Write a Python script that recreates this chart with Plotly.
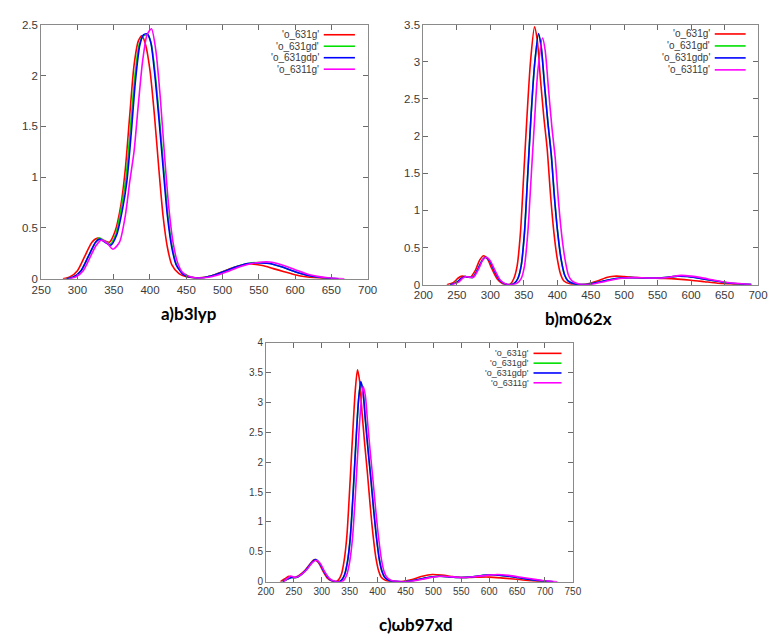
import plotly.graph_objects as go

W, H = 780, 639
series_names = ["'o_631g'", "'o_631gd'", "'o_631gdp'", "'o_6311g'"]
colors = ["#ff0000", "#00e000", "#0000ff", "#ff00ff"]

# ---------------- panel a) b3lyp ----------------
a_red_x = [280, 290, 300, 310, 320, 328, 336, 344, 352, 360, 366, 372, 378, 384, 389, 394, 400, 406, 412, 418, 424, 430, 440, 450, 468, 485, 500, 515, 530, 540, 555, 570, 585, 600, 615, 630, 650]
a_red_y = [0, 0.02, 0.08, 0.22, 0.36, 0.40, 0.38, 0.36, 0.47, 0.73, 1.08, 1.60, 2.10, 2.34, 2.39, 2.30, 2.05, 1.62, 1.10, 0.62, 0.31, 0.14, 0.05, 0.02, 0.01, 0.03, 0.07, 0.11, 0.14, 0.145, 0.13, 0.10, 0.07, 0.04, 0.02, 0.01, 0]
a_grn_x = [285, 295, 305, 315, 325, 330, 338, 345, 353, 361, 367, 373, 379, 385, 391, 397, 402, 407, 413, 419, 425, 431, 437, 447, 457, 472, 490, 505, 520, 535, 550, 565, 580, 600, 620, 640, 660]
a_grn_y = [0, 0.02, 0.08, 0.22, 0.36, 0.40, 0.37, 0.34, 0.44, 0.72, 1.00, 1.48, 1.98, 2.30, 2.39, 2.40, 2.30, 2.03, 1.58, 1.08, 0.60, 0.30, 0.13, 0.04, 0.015, 0.01, 0.04, 0.08, 0.12, 0.15, 0.16, 0.15, 0.12, 0.07, 0.03, 0.01, 0]
a_blu_x = [285, 295, 305, 315, 325, 331, 338, 346, 354, 362, 368, 374, 380, 386, 391, 396, 401, 406, 412, 418, 424, 430, 436, 446, 456, 472, 490, 505, 520, 535, 553, 565, 580, 600, 620, 640, 660]
a_blu_y = [0, 0.02, 0.08, 0.22, 0.36, 0.39, 0.36, 0.33, 0.43, 0.68, 0.95, 1.42, 1.95, 2.30, 2.40, 2.41, 2.33, 2.05, 1.60, 1.10, 0.62, 0.31, 0.14, 0.04, 0.015, 0.01, 0.04, 0.08, 0.12, 0.15, 0.155, 0.15, 0.12, 0.07, 0.03, 0.01, 0]
a_mag_x = [288, 298, 308, 318, 326, 333, 341, 349, 358, 366, 372, 378, 384, 390, 396, 402, 408, 414, 420, 426, 432, 438, 444, 452, 462, 476, 495, 510, 525, 540, 555, 565, 580, 600, 620, 645, 668]
a_mag_y = [0, 0.02, 0.08, 0.22, 0.33, 0.38, 0.35, 0.29, 0.36, 0.62, 0.95, 1.25, 1.72, 2.15, 2.40, 2.46, 2.25, 1.80, 1.22, 0.70, 0.35, 0.16, 0.07, 0.03, 0.01, 0.01, 0.04, 0.08, 0.12, 0.15, 0.165, 0.165, 0.14, 0.09, 0.04, 0.01, 0]

# ---------------- panel b) m062x ----------------
b_red_x = [235, 245, 252, 258, 264, 270, 278, 284, 290, 296, 302, 310, 318, 324, 330, 335, 340, 345, 350, 355, 360, 366, 370, 375, 380, 385, 390, 395, 400, 405, 410, 420, 430, 445, 460, 475, 488, 500, 520, 540, 560, 580, 600, 620, 640, 660, 680]
b_red_y = [0, 0.03, 0.09, 0.115, 0.105, 0.10, 0.20, 0.33, 0.39, 0.34, 0.22, 0.08, 0.015, 0.0, 0.01, 0.08, 0.25, 0.70, 1.50, 2.30, 3.00, 3.47, 3.30, 2.75, 2.25, 1.82, 1.20, 0.70, 0.35, 0.14, 0.05, 0.01, 0.0, 0.01, 0.05, 0.10, 0.115, 0.11, 0.095, 0.09, 0.085, 0.075, 0.06, 0.04, 0.02, 0.008, 0]
b_blu_x = [240, 250, 256, 262, 268, 274, 282, 288, 293, 299, 306, 314, 322, 330, 336, 341, 346, 351, 356, 361, 366, 372, 376, 381, 386, 391, 396, 401, 406, 411, 416, 426, 436, 450, 465, 480, 495, 510, 530, 550, 565, 580, 595, 610, 630, 650, 670, 690]
b_blu_y = [0, 0.03, 0.08, 0.11, 0.10, 0.10, 0.22, 0.33, 0.37, 0.32, 0.19, 0.06, 0.01, 0.0, 0.02, 0.08, 0.25, 0.70, 1.50, 2.30, 2.95, 3.38, 3.20, 2.68, 2.18, 1.75, 1.15, 0.67, 0.33, 0.13, 0.05, 0.01, 0.0, 0.01, 0.04, 0.07, 0.09, 0.095, 0.09, 0.09, 0.10, 0.115, 0.11, 0.09, 0.06, 0.03, 0.012, 0]
b_grn_x = [240, 250, 256, 262, 268, 274, 282, 288, 293, 299, 306, 314, 322, 330, 336, 341, 346, 351, 356, 361, 366, 372, 376, 381, 386, 391, 396, 401, 406, 411, 416, 426, 436, 450, 465, 480, 495, 510, 530, 550, 565, 580, 595, 610, 630, 650, 670, 690]
b_grn_y = [0, 0.03, 0.08, 0.11, 0.10, 0.10, 0.22, 0.33, 0.37, 0.32, 0.19, 0.06, 0.01, 0.0, 0.02, 0.08, 0.25, 0.70, 1.50, 2.30, 2.95, 3.37, 3.20, 2.69, 2.19, 1.76, 1.16, 0.68, 0.33, 0.13, 0.05, 0.01, 0.0, 0.01, 0.04, 0.07, 0.09, 0.095, 0.09, 0.09, 0.10, 0.115, 0.11, 0.09, 0.06, 0.03, 0.012, 0]
b_mag_x = [242, 252, 258, 263, 269, 275, 283, 289, 294, 300, 307, 315, 323, 332, 340, 346, 351, 356, 361, 366, 371, 378, 382, 387, 392, 397, 402, 407, 412, 417, 422, 432, 440, 455, 470, 485, 500, 515, 535, 555, 570, 585, 600, 615, 635, 655, 675, 690]
b_mag_y = [0, 0.03, 0.08, 0.11, 0.10, 0.10, 0.22, 0.34, 0.37, 0.32, 0.19, 0.06, 0.01, 0.0, 0.02, 0.08, 0.25, 0.70, 1.45, 2.20, 2.88, 3.32, 3.15, 2.62, 2.12, 1.70, 1.10, 0.64, 0.32, 0.12, 0.05, 0.01, 0.0, 0.01, 0.04, 0.07, 0.09, 0.095, 0.09, 0.09, 0.105, 0.125, 0.115, 0.095, 0.06, 0.03, 0.012, 0]

# ---------------- panel c) wb97xd ----------------
c_red_x = [226, 234, 241, 250, 260, 270, 280, 287, 294, 302, 310, 318, 325, 330, 335, 340, 345, 350, 355, 360, 364, 368, 372, 377, 382, 387, 392, 397, 402, 407, 415, 425, 440, 460, 480, 498, 515, 535, 551, 575, 600, 625, 650, 675, 703]
c_red_y = [0, 0.05, 0.09, 0.065, 0.11, 0.19, 0.31, 0.37, 0.32, 0.18, 0.06, 0.01, 0.0, 0.03, 0.12, 0.35, 0.77, 1.55, 2.41, 3.20, 3.55, 3.35, 2.85, 2.30, 1.80, 1.25, 0.77, 0.40, 0.18, 0.07, 0.02, 0.005, 0.0, 0.03, 0.09, 0.12, 0.11, 0.085, 0.07, 0.075, 0.077, 0.06, 0.04, 0.015, 0]
c_blu_x = [230, 238, 246, 254, 262, 272, 282, 289, 296, 304, 312, 320, 331, 336, 341, 346, 351, 356, 361, 366, 370, 374, 378, 383, 388, 393, 398, 403, 408, 413, 421, 431, 446, 465, 485, 510, 530, 550, 570, 590, 604, 625, 650, 675, 700, 715]
c_blu_y = [0, 0.04, 0.07, 0.07, 0.11, 0.20, 0.32, 0.37, 0.31, 0.17, 0.06, 0.01, 0.0, 0.03, 0.12, 0.33, 0.73, 1.45, 2.30, 3.05, 3.35, 3.18, 2.72, 2.20, 1.72, 1.20, 0.74, 0.38, 0.17, 0.07, 0.02, 0.005, 0.0, 0.02, 0.06, 0.09, 0.08, 0.07, 0.08, 0.105, 0.115, 0.10, 0.07, 0.035, 0.01, 0]
c_grn_x = [230, 238, 246, 254, 262, 272, 282, 289, 296, 304, 312, 320, 331, 336, 341, 346, 351, 356, 361, 366, 370, 374, 378, 383, 388, 393, 398, 403, 408, 413, 421, 431, 446, 465, 485, 510, 530, 550, 570, 590, 604, 625, 650, 675, 700, 715]
c_grn_y = [0, 0.04, 0.07, 0.07, 0.11, 0.20, 0.32, 0.37, 0.31, 0.17, 0.06, 0.01, 0.0, 0.03, 0.12, 0.33, 0.73, 1.45, 2.30, 3.05, 3.34, 3.18, 2.73, 2.21, 1.73, 1.21, 0.75, 0.38, 0.17, 0.07, 0.02, 0.005, 0.0, 0.02, 0.06, 0.09, 0.08, 0.07, 0.08, 0.105, 0.115, 0.10, 0.07, 0.035, 0.01, 0]
c_mag_x = [232, 238, 244, 253, 262, 273, 283, 290, 297, 305, 313, 322, 335, 340, 345, 350, 355, 360, 365, 370, 374, 378, 382, 387, 392, 397, 402, 407, 412, 417, 425, 435, 450, 470, 490, 515, 535, 555, 575, 600, 615, 635, 660, 685, 705, 722]
c_mag_y = [0, 0.05, 0.095, 0.07, 0.11, 0.20, 0.32, 0.36, 0.31, 0.17, 0.06, 0.01, 0.0, 0.03, 0.12, 0.33, 0.72, 1.42, 2.25, 2.95, 3.27, 3.12, 2.68, 2.16, 1.68, 1.17, 0.72, 0.37, 0.16, 0.07, 0.02, 0.005, 0.0, 0.02, 0.06, 0.09, 0.08, 0.07, 0.085, 0.11, 0.12, 0.105, 0.07, 0.035, 0.01, 0]

panel_titles = ["a)b3lyp", "b)m062x", "c)\u03c9b97xd"]
x_ranges = [[250, 700], [200, 700], [200, 750]]
y_ranges = [[0, 2.5], [0, 3.5], [0, 4]]
y_dticks = [0.5, 0.5, 0.5]

panels = [
    [(a_red_x, a_red_y), (a_grn_x, a_grn_y), (a_blu_x, a_blu_y), (a_mag_x, a_mag_y)],
    [(b_red_x, b_red_y), (b_grn_x, b_grn_y), (b_blu_x, b_blu_y), (b_mag_x, b_mag_y)],
    [(c_red_x, c_red_y), (c_grn_x, c_grn_y), (c_blu_x, c_blu_y), (c_mag_x, c_mag_y)],
]

# plot-area pixel boxes (left, right, top, bottom)
boxes = [(32, 367, 19, 278), (424.3, 767.7, 19, 284), (262.7, 577.7, 343.3, 586.7)]
tick_fs = [11.5, 11.5, 10]
leg_fs = [10, 10, 9]
leg_step = [11.7, 12.2, 10]
leg_top = [29.3, 28.5, 354]
leg_line = [(322, 354), (723.3, 755), (537.3, 566)]
title_pos = [(184, 313), (583, 318), (417, 630)]

def px(x):
    return x / W

def py(y):
    return 1 - y / H

fig = go.Figure()
layout = dict(width=W, height=H, margin=dict(l=0, r=0, t=0, b=0),
              paper_bgcolor="white", plot_bgcolor="white", showlegend=False)
annotations = []
shapes = []

for p in range(3):
    sfx = "" if p == 0 else str(p + 1)
    for s in range(4):
        xs, ys = panels[p][s]
        fig.add_trace(go.Scatter(x=xs, y=ys, mode="lines", name=series_names[s],
                                 line=dict(color=colors[s], width=1.6, shape="spline", smoothing=0.7),
                                 xaxis="x" + sfx, yaxis="y" + sfx, hoverinfo="x+y"))
    l, r, t, b = boxes[p]
    axcommon = dict(showgrid=False, zeroline=False, showline=True, linecolor="#8a8a8a", linewidth=1,
                    mirror="ticks", ticks="inside", ticklen=5, tickcolor="#6a6a6a",
                    tickfont=dict(family="Liberation Sans, Arial, sans-serif", size=tick_fs[p], color="#3a3a3a"))
    layout["xaxis" + sfx] = dict(axcommon, domain=[px(l), px(r)], range=x_ranges[p], dtick=50,
                                 anchor="y" + sfx)
    layout["yaxis" + sfx] = dict(axcommon, domain=[py(b), py(t)], range=y_ranges[p], dtick=y_dticks[p],
                                 anchor="x" + sfx)
    # gnuplot-style key: right-aligned label + line sample
    x0, x1 = leg_line[p]
    for s in range(4):
        yy = leg_top[p] + s * leg_step[p]
        annotations.append(dict(x=px(x0 - 3), y=py(yy), xref="paper", yref="paper", text=series_names[s],
                                showarrow=False, xanchor="right", yanchor="middle",
                                font=dict(family="Liberation Sans, Arial, sans-serif", size=leg_fs[p], color="#3a3a3a")))
        shapes.append(dict(type="line", xref="paper", yref="paper", x0=px(x0), x1=px(x1), y0=py(yy), y1=py(yy),
                           line=dict(color=colors[s], width=1.6)))
    tx, ty = title_pos[p]
    annotations.append(dict(x=px(tx), y=py(ty), xref="paper", yref="paper", text="<b>" + panel_titles[p] + "</b>",
                            showarrow=False, xanchor="center", yanchor="middle",
                            font=dict(family="Lato, Open Sans, sans-serif", size=17, color="black")))

layout["annotations"] = annotations
layout["shapes"] = shapes
fig.update_layout(**layout)
fig.write_html("out.html")
